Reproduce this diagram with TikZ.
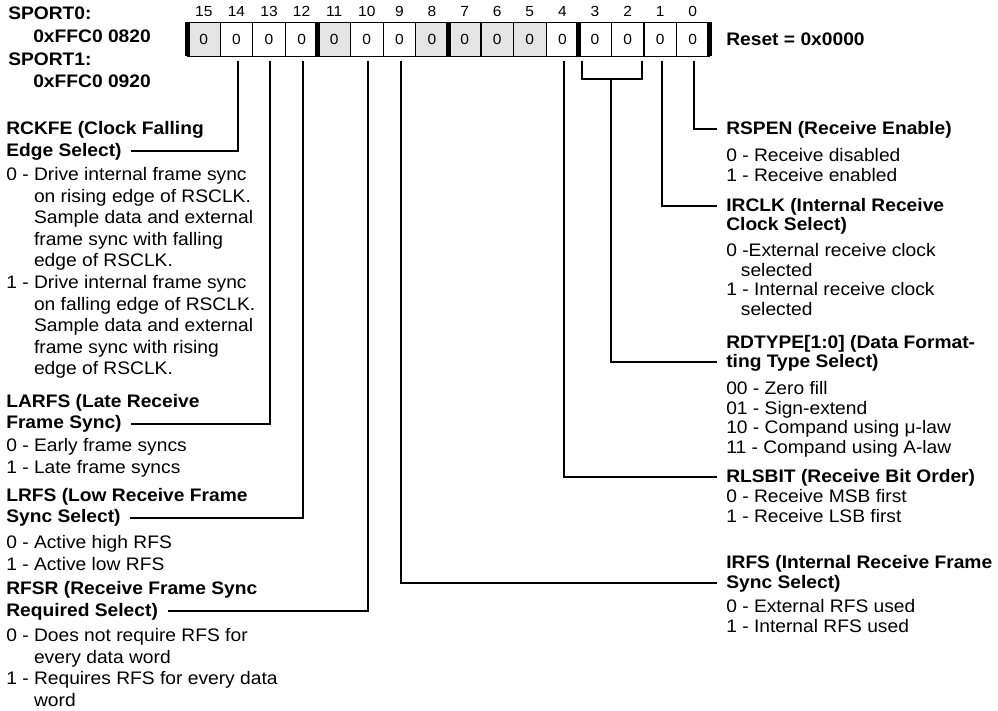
\documentclass[tikz,border=0pt]{standalone}
\usepackage{fontspec}
\setmainfont[FakeStretch=1.06]{Liberation Sans}
\usepackage{xcolor}
\usetikzlibrary{positioning}
\definecolor{resgray}{HTML}{E4E4E4}
\tikzstyle{bitcell} = [draw, line width=0.9pt, minimum width=24.45pt, minimum height=25.5pt, inner sep=0pt, outer sep=0pt, font=\fontsize{11}{13}\selectfont]
\tikzstyle{bitnum} = [inner sep=0pt, font=\fontsize{11}{13}\selectfont]
\tikzstyle{groupbar} = [line width=3.8pt]
\tikzstyle{fieldname} = [inner sep=0pt, anchor=base west, font=\fontsize{13.6}{16}\selectfont\bfseries]
\tikzstyle{leftlist} = [inner sep=0pt, anchor=north west, align=left, font=\fontsize{13.6}{16.2}\selectfont]
\tikzstyle{rightlist} = [inner sep=0pt, anchor=north west, align=left, font=\fontsize{13.6}{14.8}\selectfont]
\tikzstyle{lead} = [line width=1.5pt]
\newcommand{\hangnum}{\phantom{0 - }}

\begin{document}
\begin{tikzpicture}[x=0.75pt, y=-0.75pt, node distance=4pt]
    \useasboundingbox (0,0) rectangle (998,710);

    % register address
    \node (sp0) [fieldname] at (8,20) {SPORT0:};
    \node (sp0addr) [fieldname] at (33,43) {0xFFC0 0820};
    \node (sp1) [fieldname] at (8,65) {SPORT1:};
    \node (sp1addr) [fieldname] at (33,87) {0xFFC0 0920};

    % bit cells
    \foreach \b/\f in {15/resgray, 14/white, 13/white, 12/white, 11/resgray, 10/white, 9/white, 8/resgray,
                       7/resgray, 6/resgray, 5/resgray, 4/white, 3/white, 2/white, 1/white, 0/white} {
        \node (b\b) [bitcell, fill=\f] at ({187.5+(15.5-\b)*32.6},39.5) {0};
        \node (n\b) [bitnum, above=of b\b] {\b};
    }
    \foreach \g in {15,11,7,3}
        \draw [groupbar] (b\g.north west) -- (b\g.south west);
    \draw [groupbar] (b0.north east) -- (b0.south east);

    \node (reset) [fieldname] at (726,45.5) {Reset = 0x0000};

    % left fields
    \node (rckfeA) [fieldname] at (6,134) {RCKFE (Clock Falling};
    \node (rckfe) [fieldname] at (6,156) {Edge Select)};
    \node (rckfelist) [leftlist] at (6,167) {0 - Drive internal frame sync\\
        \hangnum on rising edge of RSCLK.\\
        \hangnum Sample data and external\\
        \hangnum frame sync with falling\\
        \hangnum edge of RSCLK.\\
        1 - Drive internal frame sync\\
        \hangnum on falling edge of RSCLK.\\
        \hangnum Sample data and external\\
        \hangnum frame sync with rising\\
        \hangnum edge of RSCLK.};

    \node (larfsA) [fieldname] at (6,407.5) {LARFS (Late Receive};
    \node (larfs) [fieldname] at (6,428.5) {Frame Sync)};
    \node (larfslist) [leftlist] at (6,438) {0 - Early frame syncs\\1 - Late frame syncs};

    \node (lrfsA) [fieldname] at (6,501) {LRFS (Low Receive Frame};
    \node (lrfs) [fieldname] at (6,522.5) {Sync Select)};
    \node (lrfslist) [leftlist] at (6,535) {0 - Active high RFS\\1 - Active low RFS};

    \node (rfsrA) [fieldname] at (6,594.5) {RFSR (Receive Frame Sync};
    \node (rfsr) [fieldname] at (6,616) {Required Select)};
    \node (rfsrlist) [leftlist] at (6,628) {0 - Does not require RFS for\\
        \hangnum every data word\\
        1 - Requires RFS for every data\\
        \hangnum word};

    % right fields
    \node (rspen) [fieldname] at (726,134) {RSPEN (Receive Enable)};
    \node (rspenlist) [rightlist] at (726,148) {0 - Receive disabled\\1 - Receive enabled};

    \node (irclkA) [fieldname] at (726,211) {IRCLK (Internal Receive};
    \node (irclk) [fieldname] at (726,230) {Clock Select)};
    \node (irclklist) [rightlist] at (726,243) {0 -External receive clock\\
        \hspace*{11pt}selected\\
        1 - Internal receive clock\\
        \hspace*{11pt}selected};

    \node (rdtypeA) [fieldname] at (726,348) {RDTYPE[1:0] (Data Format-};
    \node (rdtype) [fieldname] at (726,367) {ting Type Select)};
    \node (rdtypelist) [rightlist] at (726,381) {00 - Zero fill\\01 - Sign-extend\\10 - Compand using μ-law\\11 - Compand using A-law};

    \node (rlsbit) [fieldname] at (726,482) {RLSBIT (Receive Bit Order)};
    \node (rlsbitlist) [rightlist] at (726,489) {0 - Receive MSB first\\1 - Receive LSB first};

    \node (irfsA) [fieldname] at (726,568) {IRFS (Internal Receive Frame};
    \node (irfs) [fieldname] at (726,588) {Sync Select)};
    \node (irfslist) [rightlist] at (726,599) {0 - External RFS used\\1 - Internal RFS used};

    % leader lines
    \draw [lead] ([xshift=1pt,yshift=-3.5pt]b14.south) |- ([xshift=7pt]rckfe.east);
    \draw [lead] ([xshift=1pt,yshift=-3.5pt]b13.south) |- ([xshift=7pt]larfs.east);
    \draw [lead] ([xshift=1pt,yshift=-3.5pt]b12.south) |- ([xshift=7pt]lrfs.east);
    \draw [lead] ([xshift=1pt,yshift=-3.5pt]b10.south) |- ([xshift=7pt]rfsr.east);
    \draw [lead] ([xshift=1pt,yshift=-3.5pt]b9.south) |- ([xshift=-7pt]irfs.west);
    \draw [lead] ([xshift=1pt,yshift=-3.5pt]b4.south) |- ([xshift=-7pt]rlsbit.west);
    \draw [lead] ([xshift=2.5pt,yshift=-3.5pt]b3.south west) -- ++(0,18) coordinate (brk)
        -| ([xshift=-1.5pt,yshift=-3.5pt]b2.south east);
    \draw [lead] (b3.south east |- brk) |- ([xshift=-7pt]rdtype.west);
    \draw [lead] ([xshift=1pt,yshift=-3.5pt]b1.south) |- ([xshift=-7pt]irclkA.west);
    \draw [lead] ([xshift=1pt,yshift=-3.5pt]b0.south) |- ([xshift=-7pt]rspen.west);
\end{tikzpicture}
\end{document}
